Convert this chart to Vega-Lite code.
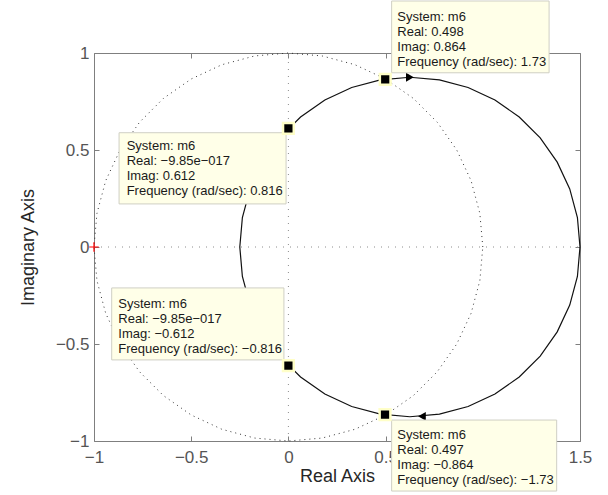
{
  "$schema": "https://vega.github.io/schema/vega-lite/v6.json",
  "width": 486,
  "height": 388,
  "autosize": "none",
  "padding": {"left": 94, "top": 53, "right": 28, "bottom": 54},
  "background": "white",
  "config": {
    "font": "Liberation Sans",
    "view": {"stroke": "#7f7f7f", "strokeWidth": 1}
  },
  "datasets": {
    "curve": [
      {"i": 0, "x": 1.5, "y": 0}, {"i": 1, "x": 1.4867, "y": 0.1519}, {"i": 2, "x": 1.4472, "y": 0.2993},
      {"i": 3, "x": 1.3828, "y": 0.4375}, {"i": 4, "x": 1.2953, "y": 0.5624}, {"i": 5, "x": 1.1874, "y": 0.6703},
      {"i": 6, "x": 1.0625, "y": 0.7578}, {"i": 7, "x": 0.9243, "y": 0.8222}, {"i": 8, "x": 0.7769, "y": 0.8617},
      {"i": 9, "x": 0.625, "y": 0.875}, {"i": 10, "x": 0.4731, "y": 0.8617}, {"i": 11, "x": 0.3257, "y": 0.8222},
      {"i": 12, "x": 0.1875, "y": 0.7578}, {"i": 13, "x": 0.0626, "y": 0.6703}, {"i": 14, "x": -0.0453, "y": 0.5624},
      {"i": 15, "x": -0.1328, "y": 0.4375}, {"i": 16, "x": -0.1972, "y": 0.2993}, {"i": 17, "x": -0.2367, "y": 0.1519},
      {"i": 18, "x": -0.25, "y": 0}, {"i": 19, "x": -0.2367, "y": -0.1519}, {"i": 20, "x": -0.1972, "y": -0.2993},
      {"i": 21, "x": -0.1328, "y": -0.4375}, {"i": 22, "x": -0.0453, "y": -0.5624}, {"i": 23, "x": 0.0626, "y": -0.6703},
      {"i": 24, "x": 0.1875, "y": -0.7578}, {"i": 25, "x": 0.3257, "y": -0.8222}, {"i": 26, "x": 0.4731, "y": -0.8617},
      {"i": 27, "x": 0.625, "y": -0.875}, {"i": 28, "x": 0.7769, "y": -0.8617}, {"i": 29, "x": 0.9243, "y": -0.8222},
      {"i": 30, "x": 1.0625, "y": -0.7578}, {"i": 31, "x": 1.1874, "y": -0.6703}, {"i": 32, "x": 1.2953, "y": -0.5624},
      {"i": 33, "x": 1.3828, "y": -0.4375}, {"i": 34, "x": 1.4472, "y": -0.2993}, {"i": 35, "x": 1.4867, "y": -0.1519},
      {"i": 36, "x": 1.5, "y": 0}
    ],
    "unit": [
      {"i": 0, "x": 1, "y": 0}, {"i": 1, "x": 0.9848, "y": 0.1736}, {"i": 2, "x": 0.9397, "y": 0.342},
      {"i": 3, "x": 0.866, "y": 0.5}, {"i": 4, "x": 0.766, "y": 0.6428}, {"i": 5, "x": 0.6428, "y": 0.766},
      {"i": 6, "x": 0.5, "y": 0.866}, {"i": 7, "x": 0.342, "y": 0.9397}, {"i": 8, "x": 0.1736, "y": 0.9848},
      {"i": 9, "x": 0, "y": 1}, {"i": 10, "x": -0.1736, "y": 0.9848}, {"i": 11, "x": -0.342, "y": 0.9397},
      {"i": 12, "x": -0.5, "y": 0.866}, {"i": 13, "x": -0.6428, "y": 0.766}, {"i": 14, "x": -0.766, "y": 0.6428},
      {"i": 15, "x": -0.866, "y": 0.5}, {"i": 16, "x": -0.9397, "y": 0.342}, {"i": 17, "x": -0.9848, "y": 0.1736},
      {"i": 18, "x": -1, "y": 0}, {"i": 19, "x": -0.9848, "y": -0.1736}, {"i": 20, "x": -0.9397, "y": -0.342},
      {"i": 21, "x": -0.866, "y": -0.5}, {"i": 22, "x": -0.766, "y": -0.6428}, {"i": 23, "x": -0.6428, "y": -0.766},
      {"i": 24, "x": -0.5, "y": -0.866}, {"i": 25, "x": -0.342, "y": -0.9397}, {"i": 26, "x": -0.1736, "y": -0.9848},
      {"i": 27, "x": 0, "y": -1}, {"i": 28, "x": 0.1736, "y": -0.9848}, {"i": 29, "x": 0.342, "y": -0.9397},
      {"i": 30, "x": 0.5, "y": -0.866}, {"i": 31, "x": 0.6428, "y": -0.766}, {"i": 32, "x": 0.766, "y": -0.6428},
      {"i": 33, "x": 0.866, "y": -0.5}, {"i": 34, "x": 0.9397, "y": -0.342}, {"i": 35, "x": 0.9848, "y": -0.1736},
      {"i": 36, "x": 1, "y": 0}
    ],
    "zero": [
      {"x": -1, "x2": 1.5, "y": 0, "y2": 0},
      {"x": 0, "x2": 0, "y": -1, "y2": 1}
    ],
    "arrows": [
      {"x": 0.625, "y": 0.875, "dir": "right"},
      {"x": 0.687, "y": -0.873, "dir": "left"}
    ],
    "critical": [{"x": -1, "y": 0}],
    "tips": [
      {"px": 0.498, "py": 0.864, "bx": 0.531, "bx2": 1.341, "by": 1.268, "by2": 0.898, "tx": 0.56, "ty": 1.218,
       "label": "System: m6\nReal: 0.498\nImag: 0.864\nFrequency (rad/sec): 1.73"},
      {"px": 0, "py": 0.612, "bx": -0.871, "bx2": -0.012, "by": 0.589, "by2": 0.222, "tx": -0.832, "ty": 0.551,
       "label": "System: m6\nReal: −9.85e−017\nImag: 0.612\nFrequency (rad/sec): 0.816"},
      {"px": 0, "py": -0.612, "bx": -0.909, "bx2": -0.023, "by": -0.211, "by2": -0.582, "tx": -0.875, "ty": -0.263,
       "label": "System: m6\nReal: −9.85e−017\nImag: −0.612\nFrequency (rad/sec): −0.816"},
      {"px": 0.497, "py": -0.864, "bx": 0.531, "bx2": 1.38, "by": -0.892, "by2": -1.258, "tx": 0.56, "ty": -0.94,
       "label": "System: m6\nReal: 0.497\nImag: −0.864\nFrequency (rad/sec): −1.73"}
    ]
  },
  "layer": [
    {
      "data": {"name": "zero"},
      "mark": {"type": "rule", "stroke": "#8c8c8c", "strokeWidth": 1, "strokeDash": [1, 6]},
      "encoding": {
        "x": {"field": "x", "type": "quantitative",
          "scale": {"domain": [-1, 1.5], "nice": false, "zero": false},
          "axis": {"orient": "bottom", "values": [-1, -0.5, 0, 0.5, 1, 1.5], "format": "~g",
            "title": "Real Axis", "titleFontSize": 18, "titleFontWeight": "normal", "titleColor": "#262626", "titlePadding": 2,
            "labelFontSize": 17, "labelColor": "#555555", "labelPadding": 13, "labelFlush": false, "labelOverlap": false,
            "domain": false, "grid": false, "ticks": true, "tickSize": -5, "tickColor": "#7f7f7f"}},
        "x2": {"field": "x2"},
        "y": {"field": "y", "type": "quantitative",
          "scale": {"domain": [-1, 1], "nice": false, "zero": false},
          "axis": {"orient": "left", "values": [-1, -0.5, 0, 0.5, 1], "format": "~g",
            "title": "Imaginary Axis", "titleFontSize": 18, "titleFontWeight": "normal", "titleColor": "#262626", "titlePadding": 18,
            "labelFontSize": 17, "labelColor": "#555555", "labelPadding": 10, "labelFlush": false, "labelOverlap": false,
            "domain": false, "grid": false, "ticks": true, "tickSize": -5, "tickColor": "#7f7f7f"}},
        "y2": {"field": "y2"}
      }
    },
    {
      "data": {"name": "unit"},
      "mark": {"type": "line", "stroke": "#333333", "strokeWidth": 1, "strokeDash": [1, 4], "interpolate": "linear"},
      "encoding": {
        "x": {"field": "x", "type": "quantitative",
          "scale": {"domain": [-1, 1.5], "nice": false, "zero": false},
          "axis": {"orient": "top", "values": [-1, -0.5, 0, 0.5, 1, 1.5], "labels": false, "title": null,
            "domain": false, "grid": false, "ticks": true, "tickSize": -5, "tickColor": "#7f7f7f"}},
        "y": {"field": "y", "type": "quantitative",
          "scale": {"domain": [-1, 1], "nice": false, "zero": false},
          "axis": {"orient": "right", "values": [-1, -0.5, 0, 0.5, 1], "labels": false, "title": null,
            "domain": false, "grid": false, "ticks": true, "tickSize": -5, "tickColor": "#7f7f7f"}},
        "order": {"field": "i", "type": "quantitative"}
      }
    },
    {
      "data": {"name": "curve"},
      "mark": {"type": "line", "stroke": "#111111", "strokeWidth": 1.2, "interpolate": "linear"},
      "encoding": {
        "x": {"field": "x", "type": "quantitative", "scale": {"domain": [-1, 1.5], "nice": false, "zero": false}, "axis": null},
        "y": {"field": "y", "type": "quantitative", "scale": {"domain": [-1, 1], "nice": false, "zero": false}, "axis": null},
        "order": {"field": "i", "type": "quantitative"}
      }
    },
    {
      "data": {"name": "arrows"},
      "mark": {"type": "point", "filled": true, "fill": "#000000", "size": 80, "opacity": 1},
      "encoding": {
        "x": {"field": "x", "type": "quantitative", "scale": {"domain": [-1, 1.5], "nice": false, "zero": false}, "axis": null},
        "y": {"field": "y", "type": "quantitative", "scale": {"domain": [-1, 1], "nice": false, "zero": false}, "axis": null},
        "shape": {"field": "dir", "type": "nominal", "scale": {"domain": ["right", "left"], "range": ["triangle-right", "triangle-left"]}, "legend": null}
      }
    },
    {
      "data": {"name": "critical"},
      "mark": {"type": "point", "shape": "M-1,0L1,0M0,-1L0,1", "filled": false, "stroke": "#ff0000", "strokeWidth": 1.2, "size": 90, "opacity": 1},
      "encoding": {
        "x": {"field": "x", "type": "quantitative", "scale": {"domain": [-1, 1.5], "nice": false, "zero": false}, "axis": null},
        "y": {"field": "y", "type": "quantitative", "scale": {"domain": [-1, 1], "nice": false, "zero": false}, "axis": null}
      }
    },
    {
      "data": {"name": "tips"},
      "mark": {"type": "rect", "fill": "#ffffe8", "stroke": "#cfcfc4", "strokeWidth": 1},
      "encoding": {
        "x": {"field": "bx", "type": "quantitative", "scale": {"domain": [-1, 1.5], "nice": false, "zero": false}, "axis": null},
        "x2": {"field": "bx2"},
        "y": {"field": "by", "type": "quantitative", "scale": {"domain": [-1, 1], "nice": false, "zero": false}, "axis": null},
        "y2": {"field": "by2"}
      }
    },
    {
      "data": {"name": "tips"},
      "mark": {"type": "point", "shape": "square", "filled": true, "fill": "#000000", "stroke": "#ffffc8", "strokeWidth": 2.5, "size": 115, "opacity": 1},
      "encoding": {
        "x": {"field": "px", "type": "quantitative", "scale": {"domain": [-1, 1.5], "nice": false, "zero": false}, "axis": null},
        "y": {"field": "py", "type": "quantitative", "scale": {"domain": [-1, 1], "nice": false, "zero": false}, "axis": null}
      }
    },
    {
      "data": {"name": "tips"},
      "mark": {"type": "text", "align": "left", "baseline": "top", "fontSize": 13, "lineHeight": 15, "lineBreak": "\n", "color": "#1a1a1a"},
      "encoding": {
        "x": {"field": "tx", "type": "quantitative", "scale": {"domain": [-1, 1.5], "nice": false, "zero": false}, "axis": null},
        "y": {"field": "ty", "type": "quantitative", "scale": {"domain": [-1, 1], "nice": false, "zero": false}, "axis": null},
        "text": {"field": "label"}
      }
    }
  ],
  "resolve": {"axis": {"x": "independent", "y": "independent"}}
}
